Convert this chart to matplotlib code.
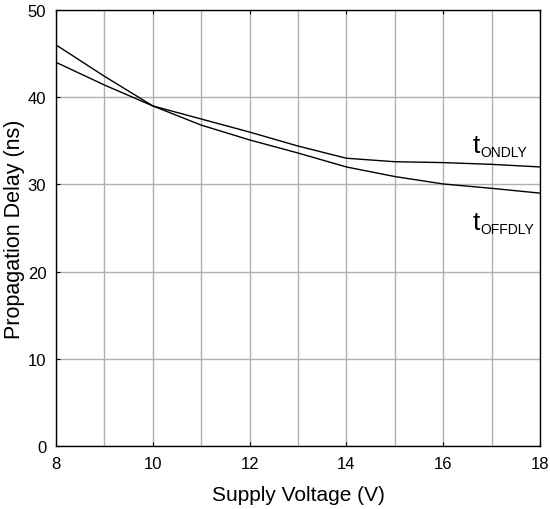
import matplotlib
matplotlib.use("Agg")
import matplotlib.pyplot as plt
from matplotlib.ticker import MultipleLocator
from matplotlib.transforms import offset_copy

voltage = [8, 9, 10, 11, 12, 13, 14, 15, 16, 17, 18]
t_on = [44.0, 41.4, 39.0, 37.5, 36.0, 34.4, 33.0, 32.6, 32.5, 32.3, 32.0]
t_off = [46.0, 42.4, 39.0, 36.8, 35.1, 33.6, 32.0, 30.9, 30.05, 29.55, 29.0]

xlabel = "Supply Voltage (V)"
ylabel = "Propagation Delay (ns)"
label_main = "t"
sub_on = "ONDLY"
sub_off = "OFFDLY"

plt.rcParams["font.family"] = ["Liberation Sans", "DejaVu Sans"]

fig = plt.figure(figsize=(5.5, 5.1), dpi=100)
W, H = 550, 510
ax = fig.add_axes([56 / W, 1 - 447 / H, (540 - 56) / W, (447 - 11) / H])

ax.set_xlim(8, 18)
ax.set_ylim(0, 50)
ax.xaxis.set_major_locator(MultipleLocator(2))
ax.xaxis.set_minor_locator(MultipleLocator(1))
ax.yaxis.set_major_locator(MultipleLocator(10))

ax.grid(True, which="both", axis="x", color="#b0b0b0", lw=1.0)
ax.grid(True, which="major", axis="y", color="#b0b0b0", lw=1.0)
ax.set_axisbelow(True)

ax.plot(voltage, t_on, color="black", lw=1.0)
ax.plot(voltage, t_off, color="black", lw=1.0)

for s in ax.spines.values():
    s.set_color("black")
    s.set_linewidth(1.0)

ax.tick_params(which="major", direction="in", length=3, top=True, right=False,
               labelsize=12, pad=7, color="black")
ax.tick_params(which="minor", length=0)

ax.set_xlabel(xlabel, fontsize=15, labelpad=10)
ax.set_ylabel(ylabel, fontsize=15.5, labelpad=2)

for (y, sub) in [(33.7, sub_on), (24.9, sub_off)]:
    ax.text(16.6, y, label_main, fontsize=19, ha="left", va="baseline")
    tr = offset_copy(ax.transData, fig=fig, x=6, y=-3, units="points")
    ax.text(16.6, y, sub, fontsize=10, ha="left", va="baseline", transform=tr)

fig.savefig("out.png", dpi=100)
